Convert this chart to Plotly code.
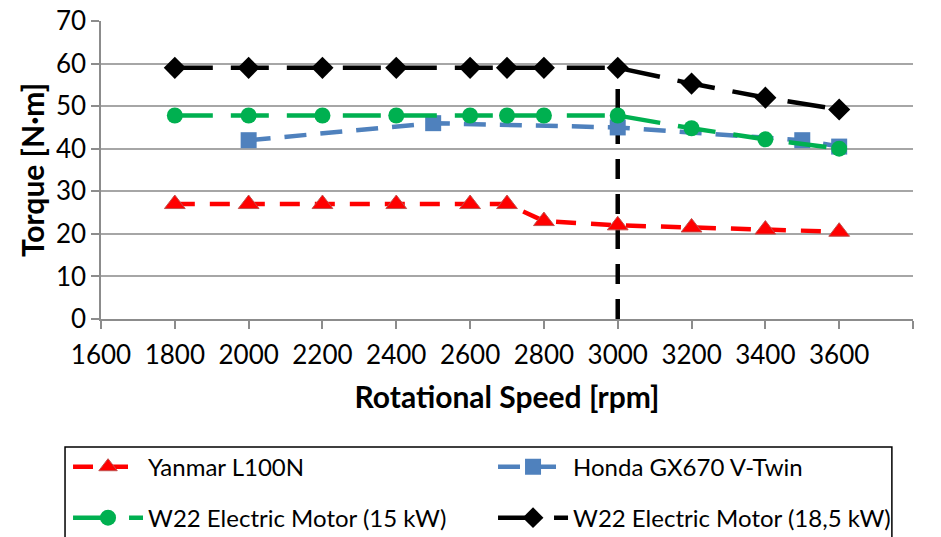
import plotly.graph_objects as go

# ---- data ----
rpm_full = [1800, 2000, 2200, 2400, 2600, 2700, 2800, 3000, 3200, 3400, 3600]
yanmar = [27, 27, 27, 27, 27, 27, 23, 22, 21.5, 21, 20.5]
honda_rpm = [2000, 2500, 3000, 3500, 3600]
honda = [42, 46, 45, 42, 40.5]
w22_15 = [47.8, 47.8, 47.8, 47.8, 47.8, 47.8, 47.8, 47.8, 44.8, 42.2, 40]
w22_185 = [59, 59, 59, 59, 59, 59, 59, 59, 55.3, 52, 49.2]
vline_x = [3000, 3000]
vline_y = [0, 59]

x_ticks = list(range(1600, 3801, 200))
y_ticks = list(range(0, 71, 10))

FONT = "Lato"
fig = go.Figure()

fig.add_trace(go.Scatter(x=vline_x, y=vline_y, mode="lines", showlegend=False,
                         line=dict(color="black", width=4.5, dash="20px,15px"),
                         hoverinfo="skip"))

fig.add_trace(go.Scatter(x=rpm_full, y=yanmar, mode="lines+markers", name="Yanmar L100N",
                         line=dict(color="#FF0000", width=4.5, dash="20px,15px"),
                         marker=dict(symbol="triangle-up", size=18, color="#FF0000",
                                     line=dict(color="#C0504D", width=1)),
                         legend="legend"))
fig.add_trace(go.Scatter(x=honda_rpm, y=honda, mode="lines+markers", name="Honda GX670 V-Twin",
                         line=dict(color="#4F81BD", width=4.5, dash="22px,14px"),
                         marker=dict(symbol="square", size=16, color="#4F81BD"),
                         legend="legend"))
fig.add_trace(go.Scatter(x=rpm_full, y=w22_15, mode="lines+markers", name="W22 Electric Motor (15 kW)",
                         line=dict(color="#00B050", width=4.5, dash="38px,18px"),
                         marker=dict(symbol="circle", size=16, color="#00B050"),
                         legend="legend2"))
fig.add_trace(go.Scatter(x=rpm_full, y=w22_185, mode="lines+markers", name="W22 Electric Motor (18,5 kW)",
                         line=dict(color="black", width=4.5, dash="38px,18px"),
                         marker=dict(symbol="diamond", size=17, color="black"),
                         legend="legend2"))

axis_common = dict(showline=True, linecolor="#8C8C8C", linewidth=1.5,
                   ticks="outside", tickcolor="#8C8C8C", ticklen=8, tickwidth=1.5,
                   tickfont=dict(family=FONT, size=26, color="black"), zeroline=False)

fig.update_xaxes(range=[1600, 3800], tickvals=x_ticks, showgrid=False, ticklabelstandoff=4,
                 title=dict(text="<b>Rotational Speed [rpm]</b>", font=dict(family=FONT, size=30, color="black"),
                            standoff=18),
                 **axis_common)
fig.update_yaxes(range=[0, 70], tickvals=y_ticks, showgrid=True, gridcolor="#A6A6A6", gridwidth=1.5,
                 ticksuffix="&nbsp;&nbsp;",
                 title=dict(text="<b>Torque [N·m]</b>", font=dict(family=FONT, size=30, color="black"),
                            standoff=2),
                 **axis_common)

leg_common = dict(orientation="h", xanchor="left", yanchor="middle", x=-0.0406,
                  entrywidth=340, entrywidthmode="pixels", itemwidth=70,
                  font=dict(family=FONT, size=24, color="black"),
                  bgcolor="rgba(0,0,0,0)", borderwidth=0)

fig.update_layout(
    width=941, height=537,
    margin=dict(l=101, r=28, t=21, b=218, autoexpand=False),
    plot_bgcolor="white", paper_bgcolor="white",
    legend=dict(y=-0.497, **leg_common),
    legend2=dict(y=-0.668, **leg_common),
    shapes=[dict(type="rect", xref="paper", yref="paper", x0=-0.0443, x1=0.974, y0=-0.85, y1=-0.4295,
                 line=dict(color="black", width=1.5), fillcolor="rgba(0,0,0,0)")],
)

fig.write_html("out.html")
